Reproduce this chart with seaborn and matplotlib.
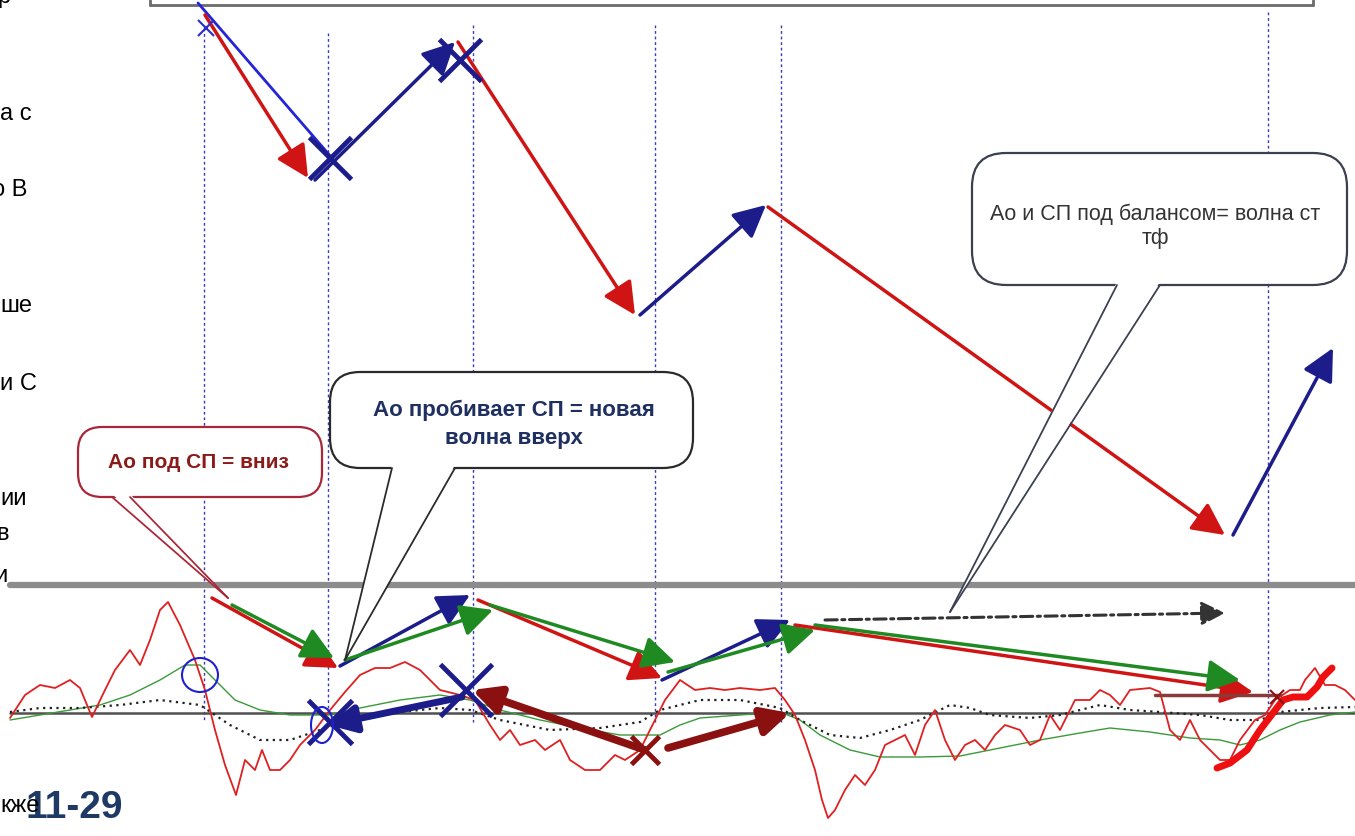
import numpy as np
import pandas as pd
import matplotlib
matplotlib.use("Agg")
import matplotlib.pyplot as plt
import seaborn as sns
from matplotlib.patches import FancyBboxPatch, Polygon, Ellipse

# ---------------- data (chart units: bar index on x, level on y, y grows downward) -------------
# oscillator (AO) line
ao_x = [10, 25, 40, 55, 70, 80, 92, 105, 115, 130, 140, 150, 160, 168, 180, 195, 205, 215, 225, 236,
        245, 255, 262, 270, 280, 290, 300, 315, 330, 345, 360, 375, 390, 405, 420, 440, 460, 475, 490,
        500, 510, 520, 535, 545, 560, 570, 585, 600, 615, 625, 640, 655, 665, 680, 695, 710, 725, 740,
        760, 775, 785, 795, 805, 815, 822, 828, 835, 845, 855, 865, 875, 885, 895, 905, 915, 925, 935,
        945, 955, 965, 975, 985, 995, 1005, 1020, 1030, 1040, 1050, 1060, 1075, 1090, 1100, 1110, 1120,
        1130, 1150, 1160, 1170, 1180, 1190, 1200, 1210, 1220, 1230, 1240, 1255, 1265, 1275, 1290, 1300,
        1305, 1315, 1325, 1335, 1345, 1355]
ao_y = [718, 695, 685, 688, 680, 688, 717, 690, 670, 650, 665, 640, 610, 602, 625, 660, 690, 730, 765, 795,
        760, 770, 750, 770, 770, 760, 745, 730, 710, 692, 675, 668, 668, 662, 670, 690, 695, 700, 725,
        740, 730, 745, 740, 750, 740, 760, 770, 770, 755, 760, 750, 720, 700, 680, 690, 688, 690, 688,
        690, 688, 700, 715, 740, 770, 800, 818, 810, 790, 775, 785, 770, 745, 740, 735, 755, 725, 710,
        740, 760, 745, 740, 750, 735, 725, 730, 745, 740, 715, 730, 700, 700, 690, 695, 705,
        690, 688, 692, 730, 740, 720, 740, 750, 760, 760, 740, 720, 715, 700, 690, 690,
        680, 668, 685, 685, 690, 700]
# bold AO segment at the right
aob_x = [1217, 1230, 1247, 1260, 1273, 1283, 1293, 1307, 1317, 1323, 1332]
aob_y = [768, 763, 750, 730, 713, 700, 697, 697, 687, 677, 668]
# signal line (СП)
sp_x = [10, 40, 70, 100, 130, 160, 185, 200, 215, 235, 260, 290, 330, 360, 400, 440, 470, 500, 540,
        580, 620, 660, 680, 700, 740, 780, 800, 820, 850, 880, 920, 960, 1000, 1040, 1080, 1110, 1150,
        1190, 1220, 1240, 1260, 1280, 1300, 1330, 1355]
sp_y = [720, 715, 710, 705, 695, 680, 665, 665, 680, 700, 710, 715, 715, 708, 700, 695, 700, 710, 720,
        728, 735, 735, 725, 718, 715, 712, 720, 735, 750, 757, 757, 756, 748, 740, 733, 728, 732,
        738, 740, 745, 740, 730, 722, 715, 712]
# balance line (dotted)
bal_x = [10, 40, 80, 120, 160, 200, 230, 260, 290, 320, 350, 400, 440, 470, 500, 550, 600, 640, 660,
         700, 740, 780, 800, 830, 860, 890, 920, 950, 970, 990, 1030, 1060, 1100, 1130, 1160, 1200,
         1230, 1260, 1280, 1320, 1355]
bal_y = [712, 708, 708, 705, 700, 705, 725, 740, 740, 730, 720, 712, 708, 710, 720, 730, 728, 722, 710,
         700, 700, 708, 720, 735, 738, 730, 720, 705, 708, 715, 718, 715, 705, 710, 712, 715,
         720, 720, 712, 708, 707]

# price-wave arrows (upper panel)
wave_x0 = [205, 315, 458, 640, 768, 1233]
wave_y0 = [15, 180, 42, 315, 207, 535]
wave_x1 = [308, 455, 635, 766, 1225, 1333]
wave_y1 = [178, 42, 315, 205, 535, 348]
wave_dir = ["down", "up", "down", "up", "down", "up"]

# oscillator-wave arrows (lower panel)
osc_x0 = [212, 232, 340, 345, 478, 490, 662, 668, 795, 815]
osc_y0 = [598, 605, 666, 660, 600, 605, 680, 672, 625, 625]
osc_x1 = [338, 334, 470, 493, 662, 675, 790, 815, 1253, 1240]
osc_y1 = [668, 658, 595, 610, 678, 662, 620, 630, 692, 680]
osc_kind = ["AO down", "SP", "AO up", "SP", "AO down", "SP", "AO up", "SP", "AO down", "SP"]

vline_x = [204, 328, 473, 655, 781, 1268]
vline_top = [28, 33, 25, 25, 25, 12]

left_text = ["р", "а с", "о В", "ше", "и С", "ии", "в", "и", "кже"]
left_base = [3, 120, 196, 312, 390, 505, 540, 582, 812]
left_x = [-3, 0, -8, 0, 0, 0, -4, -6, 0]

callout_texts = ["Ао под СП = вниз", "Ао пробивает СП = новая\nволна вверх", "Ао и СП под балансом= волна ст\nтф"]
slide_label = "11-29"

# ---------------- drawing -------------
sns.set_theme(style="white")
plt.rcParams['font.family'] = ['Liberation Sans', 'DejaVu Sans']

W, H = 1355, 836
fig = plt.figure(figsize=(W / 100, H / 100), dpi=100)
ax = fig.add_axes([0, 0, 1, 1])
ax.set_xlim(0, W)
ax.set_ylim(H, 0)
ax.axis('off')

RED = "#d01414"
NAVY = "#1c1c8a"
GREEN = "#1f8a22"
MAROON = "#8b1010"

# top frame
ax.plot([150, 1313], [5, 5], color="#6b6b6b", lw=2, zorder=2)
ax.plot([150, 150], [0, 5], color="#6b6b6b", lw=2, zorder=2)
ax.plot([1313, 1313], [0, 5], color="#6b6b6b", lw=2, zorder=2)

# vertical dotted lines
for vx, vt in zip(vline_x, vline_top):
    ax.plot([vx, vx], [vt, 722], color="#3a3ab8", lw=1.0, ls=(0, (2, 2)), zorder=1)

# panel separator + zero line
ax.plot([10, W], [585, 585], color="#8c8c8c", lw=4.5, zorder=2)
ax.plot([10, W], [713, 713], color="#505050", lw=1.8, zorder=2)

# oscillator lines via seaborn
sns.lineplot(x=sp_x, y=sp_y, sort=False, estimator=None, color="#3a9a3a", lw=1.0, ax=ax, zorder=3)
sns.lineplot(x=bal_x, y=bal_y, sort=False, estimator=None, color="#202020", lw=1.6, ax=ax, zorder=3,
             linestyle=(0, (1, 2)))
sns.lineplot(x=ao_x, y=ao_y, sort=False, estimator=None, color="#e02020", lw=1.3, ax=ax, zorder=3)
sns.lineplot(x=aob_x, y=aob_y, sort=False, estimator=None, color="#ee1010", lw=5, ax=ax, zorder=3)


def arrow(x0, y0, x1, y1, color, lw=2.5, ms=22, ls='-', zorder=4, hw=0.45, hl=0.9):
    ax.annotate("", xy=(x1, y1), xytext=(x0, y0),
                arrowprops=dict(arrowstyle=f"-|>,head_length={hl},head_width={hw}", lw=lw, color=color,
                                mutation_scale=ms, shrinkA=0, shrinkB=0, linestyle=ls),
                zorder=zorder)


# upper wave
ax.plot([198, 332], [3, 158], color="#2424d8", lw=2, zorder=3)
for x0, y0, x1, y1, d in zip(wave_x0, wave_y0, wave_x1, wave_y1, wave_dir):
    arrow(x0, y0, x1, y1, RED if d == "down" else NAVY)

# lower arrows
kind_col = {"AO down": RED, "AO up": NAVY, "SP": GREEN}
for x0, y0, x1, y1, k in zip(osc_x0, osc_y0, osc_x1, osc_y1, osc_kind):
    arrow(x0, y0, x1, y1, kind_col[k])
arrow(825, 620, 1225, 613, "#333333", lw=2.2, ms=16, ls=(0, (4, 1.5, 1, 1.5)))

# thick arrows in oscillator
arrow(462, 697, 328, 725, NAVY, lw=5, ms=18)
arrow(645, 750, 472, 690, MAROON, lw=5.5, ms=18)
arrow(668, 748, 790, 713, MAROON, lw=5.5, ms=18)
ax.plot([1155, 1280], [695, 695], color="#8b3a3a", lw=2.5, zorder=4)

# X marks
ax.plot([206], [28], marker='x', ms=12, mew=1.5, color="#2a2ad0", zorder=5)
ax.plot([330], [158], marker='x', ms=30, mew=3.5, color=NAVY, zorder=5)
ax.plot([460], [60], marker='x', ms=30, mew=3.5, color=NAVY, zorder=5)
ax.plot([330], [722], marker='x', ms=32, mew=3.5, color=NAVY, zorder=5)
ax.plot([466], [690], marker='x', ms=38, mew=3.5, color=NAVY, zorder=5)
ax.plot([645], [750], marker='x', ms=20, mew=3.5, color=MAROON, zorder=5)
ax.plot([1277], [697], marker='x', ms=10, mew=1.5, color=MAROON, zorder=5)

# circles
ax.add_patch(Ellipse((200, 675), 36, 34, fc='none', ec="#2020d0", lw=1.5, zorder=5))
ax.add_patch(Ellipse((322, 725), 22, 36, fc='none', ec="#2020d0", lw=1.5, zorder=5))


def callout(x0, y0, x1, y1, r, bx0, bx1, tip, edge, lw):
    ax.add_patch(FancyBboxPatch((x0, y0), x1 - x0, y1 - y0,
                                boxstyle=f"round,pad=0,rounding_size={r}",
                                fc='white', ec=edge, lw=lw, zorder=6))
    ax.add_patch(Polygon([(bx0, y1 - 3), tip, (bx1, y1 - 3)], closed=True, fc='white', ec='none', zorder=6.5))
    ax.plot([bx0, tip[0]], [y1, tip[1]], color=edge, lw=lw * 0.8, zorder=7)
    ax.plot([bx1, tip[0]], [y1, tip[1]], color=edge, lw=lw * 0.8, zorder=7)


callout(78, 427, 322, 497, 24, 112, 130, (228, 598), "#a8283a", 1.6)
callout(330, 372, 693, 468, 30, 392, 455, (345, 660), "#2a2a2a", 1.6)
callout(972, 153, 1347, 285, 34, 1117, 1160, (950, 612), "#3a4050", 1.6)

ax.text(198, 463, callout_texts[0], ha='center', va='center', fontsize=15, fontweight='bold',
        color="#8b1a1a", zorder=8)
ax.text(514, 424, callout_texts[1], ha='center', va='center', fontsize=16, fontweight='bold',
        color="#1f2f5f", zorder=8, linespacing=1.45)
ax.text(1155, 226, callout_texts[2], ha='center', va='center', fontsize=15.5, fontweight='normal',
        color="#333333", zorder=8, linespacing=1.2)

# left-side text fragments
for t, yb, xx in zip(left_text, left_base, left_x):
    ax.text(xx, yb, t, ha='left', va='baseline', fontsize=17, color="black", zorder=9)

ax.text(26, 818, slide_label, ha='left', va='baseline', fontsize=28, fontweight='bold',
        color="#1e3a64", zorder=8)

fig.savefig("out.png", dpi=100)
